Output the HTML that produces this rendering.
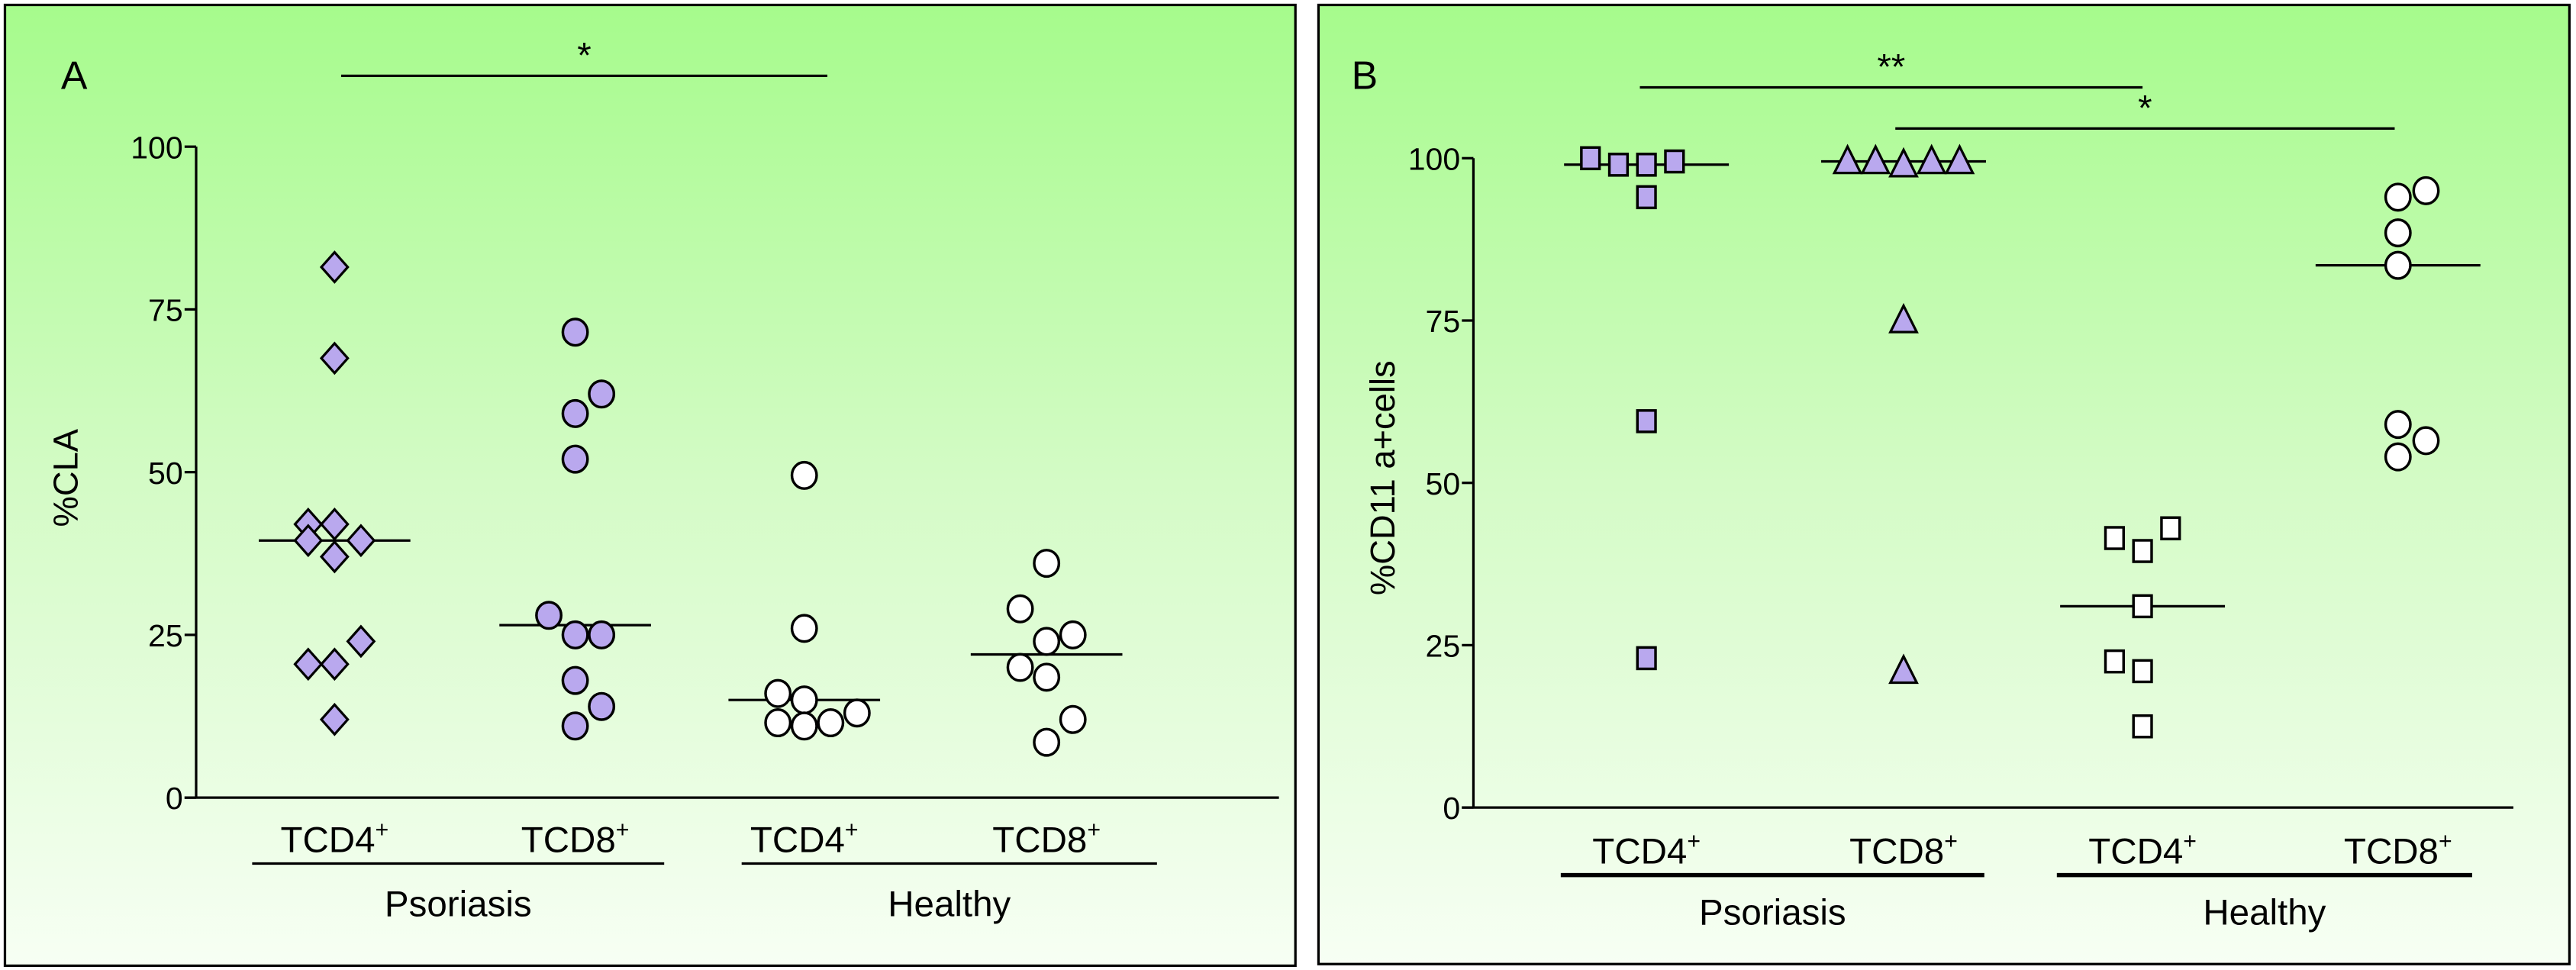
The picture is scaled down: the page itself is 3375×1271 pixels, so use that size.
<!DOCTYPE html>
<html><head><meta charset="utf-8"><style>
html,body{margin:0;padding:0;background:#fff;}
svg{display:block;font-family:"Liberation Sans",sans-serif;}
</style></head><body>
<svg id="fig" width="3375" height="1271" viewBox="0 0 1563 588.6" preserveAspectRatio="none" xmlns="http://www.w3.org/2000/svg">
<defs>
<linearGradient id="bg" x1="0" y1="0" x2="0" y2="1">
<stop offset="0" stop-color="#a6fb8c"/><stop offset="0.5" stop-color="#d4fbc6"/><stop offset="1" stop-color="#f7fff4"/>
</linearGradient>
</defs>
<g id="panelA"></g>
<g id="panelB"></g>
</svg>
<script>
// Panel A data (%CLA)
const catsA = ["TCD4+", "TCD8+", "TCD4+", "TCD8+"];
const aPsoCD4 = [81.5, 67.5, 42, 42, 39.5, 39.5, 37, 24, 20.5, 20.5, 12];
const aPsoCD4J = [0, 0, -1, 0, -1, 1, 0, 1, -1, 0, 0];
const aPsoCD8 = [71.5, 62, 59, 52, 28, 25, 25, 18, 14, 11];
const aPsoCD8J = [0, 1, 0, 0, -1, 0, 1, 0, 1, 0];
const aHeaCD4 = [49.5, 26, 16, 15, 13, 11.5, 11, 11.5];
const aHeaCD4J = [0, 0, -1, 0, 2, -1, 0, 1];
const aHeaCD8 = [36, 29, 24, 25, 20, 18.5, 12, 8.5];
const aHeaCD8J = [0, -1, 0, 1, -1, 0, 1, 0];
const aMedians = [39.5, 26.5, 15, 22];
// Panel B data (%CD11a+ cells)
const bPsoCD4 = [100, 99, 99, 99.5, 94, 59.5, 23];
const bPsoCD4J = [-2, -1, 0, 1, 0, 0, 0];
const bPsoCD8 = [99.5, 99.5, 99, 99.5, 99.5, 75, 21];
const bPsoCD8J = [-2, -1, 0, 1, 2, 0, 0];
const bHeaCD4 = [43, 41.5, 39.5, 31, 22.5, 21, 12.5];
const bHeaCD4J = [1, -1, 0, 0, -1, 0, 0];
const bHeaCD8 = [95, 94, 88.5, 83.5, 59, 56.5, 54];
const bHeaCD8J = [1, 0, 0, 0, 0, 1, 0];
const bMedians = [99, 99.5, 31, 83.5];
const yTicks = [0, 25, 50, 75, 100];

const NS = "http://www.w3.org/2000/svg";
function mk(parent, tag, attrs, text) {
  const e = document.createElementNS(NS, tag);
  for (const k in attrs) e.setAttribute(k, attrs[k]);
  if (text !== undefined) e.textContent = text;
  parent.appendChild(e);
  return e;
}
const PURPLE = "#b9a8ee";

function marker(g, shape, fill, cx, cy) {
  let e;
  if (shape === "circle") e = mk(g, "ellipse", {cx: cx, cy: cy, rx: 7.5, ry: 8, fill: fill, stroke: "#000", "stroke-width": 1.6});
  else if (shape === "diamond") e = mk(g, "polygon", {points: `${cx},${cy-9} ${cx+8},${cy} ${cx},${cy+9} ${cx-8},${cy}`, fill: fill, stroke: "#000", "stroke-width": 1.5});
  else if (shape === "square") e = mk(g, "rect", {x: cx-5.5, y: cy-6.5, width: 11, height: 13, fill: fill, stroke: "#000", "stroke-width": 1.6});
  else e = mk(g, "polygon", {points: `${cx},${cy-9} ${cx+8},${cy+7} ${cx-8},${cy+7}`, fill: fill, stroke: "#000", "stroke-width": 1.5});
  
  
}

function panel(g, o) {
  const bgR = mk(g, "rect", {x: o.fx, y: o.fy, width: o.fw, height: o.fh, fill: "url(#bg)", stroke: "#000", "stroke-width": 1.5});
  
  
  const y = v => o.y0 + (o.y100 - o.y0) * v / 100;
  const L = mk(g, "text", {x: o.lx, y: o.ly, "font-size": 24}, o.letter);
  
  
  const ya = mk(g, "line", {x1: o.ax, y1: y(100), x2: o.ax, y2: y(0), stroke: "#000", "stroke-width": 1.5});
  
  
  const xa = mk(g, "line", {x1: o.ax - 7, y1: y(0), x2: o.axEnd, y2: y(0), stroke: "#000", "stroke-width": 1.5});
  
  
  yTicks.forEach(t => {
    const tl = mk(g, "line", {x1: o.ax - 7, y1: y(t), x2: o.ax, y2: y(t), stroke: "#000", "stroke-width": 1.5});
    
    
    const tt = mk(g, "text", {x: o.ax - 8, y: y(t) + 7, "font-size": 19, "text-anchor": "end"}, String(t));
    
    
  });
  const yt = mk(g, "text", {x: o.ytx, y: o.yty, "font-size": 21, "text-anchor": "middle", transform: `rotate(-90 ${o.ytx} ${o.yty})`}, o.ytitle);
  
  
  o.cats.forEach((c, i) => {
    const t = mk(g, "text", {x: o.cx[i], y: o.tly, "font-size": 22, "text-anchor": "middle"});
    
    
    t.appendChild(document.createTextNode(c.replace("+", "")));
    const s = mk(t, "tspan", {dy: -9, "font-size": 14}, "+");
    
    
  });
  o.groups.forEach(gr => {
    const l = mk(g, "line", {x1: gr[0], y1: o.uly, x2: gr[1], y2: o.uly, stroke: "#000", "stroke-width": o.ulw});
    
    
    const t = mk(g, "text", {x: (gr[0] + gr[1]) / 2, y: o.gly, "font-size": 22, "text-anchor": "middle"}, gr[2]);
    
    
  });
  o.series.forEach((s, i) => {
    const sg = mk(g, "g", {});
    
    
    const m = mk(sg, "line", {x1: o.cx[i] - o.mw, y1: y(o.medians[i]), x2: o.cx[i] + o.mw, y2: y(o.medians[i]), stroke: "#000", "stroke-width": 1.5});
    
    
    s.vals.forEach((v, j) => marker(sg, s.shape, s.fill, o.cx[i] + s.jit[j] * o.js, y(v)));
  });
  o.sig.forEach(b => {
    const l = mk(g, "line", {x1: b[0], y1: b[2], x2: b[1], y2: b[2], stroke: "#000", "stroke-width": 1.5});
    
    
    const t = mk(g, "text", {x: (b[0] + b[1]) / 2, y: b[2] - 5, "font-size": 22, "text-anchor": "middle"}, b[3]);
    
    
  });
}

panel(document.getElementById("panelA"), {
  fx: 3, fy: 3, fw: 783, fh: 583, letter: "A", lx: 37, ly: 54,
  ax: 119, axEnd: 776, y0: 484, y100: 89, ytitle: "%CLA", ytx: 47, yty: 290,
  cats: catsA, cx: [203, 349, 488, 635], tly: 517, uly: 524, ulw: 1.5, gly: 556,
  groups: [[153, 403, "Psoriasis"], [450, 702, "Healthy"]],
  medians: aMedians, mw: 46, js: 16,
  series: [
    {vals: aPsoCD4, jit: aPsoCD4J, shape: "diamond", fill: PURPLE},
    {vals: aPsoCD8, jit: aPsoCD8J, shape: "circle", fill: PURPLE},
    {vals: aHeaCD4, jit: aHeaCD4J, shape: "circle", fill: "#fff"},
    {vals: aHeaCD8, jit: aHeaCD8J, shape: "circle", fill: "#fff"}
  ],
  sig: [[207, 502, 46, "*"]]
});
panel(document.getElementById("panelB"), {
  fx: 800, fy: 3, fw: 759, fh: 582, letter: "B", lx: 820, ly: 54,
  ax: 894, axEnd: 1525, y0: 490, y100: 96, ytitle: "%CD11 a+cells", ytx: 846, yty: 290,
  cats: catsA, cx: [999, 1155, 1300, 1455], tly: 524, uly: 531, ulw: 2.5, gly: 561,
  groups: [[947, 1204, "Psoriasis"], [1248, 1500, "Healthy"]],
  medians: bMedians, mw: 50, js: 17,
  series: [
    {vals: bPsoCD4, jit: bPsoCD4J, shape: "square", fill: PURPLE},
    {vals: bPsoCD8, jit: bPsoCD8J, shape: "triangle", fill: PURPLE},
    {vals: bHeaCD4, jit: bHeaCD4J, shape: "square", fill: "#fff"},
    {vals: bHeaCD8, jit: bHeaCD8J, shape: "circle", fill: "#fff"}
  ],
  sig: [[995, 1300, 53, "**"], [1150, 1453, 78, "*"]]
});
</script>
</body></html>
